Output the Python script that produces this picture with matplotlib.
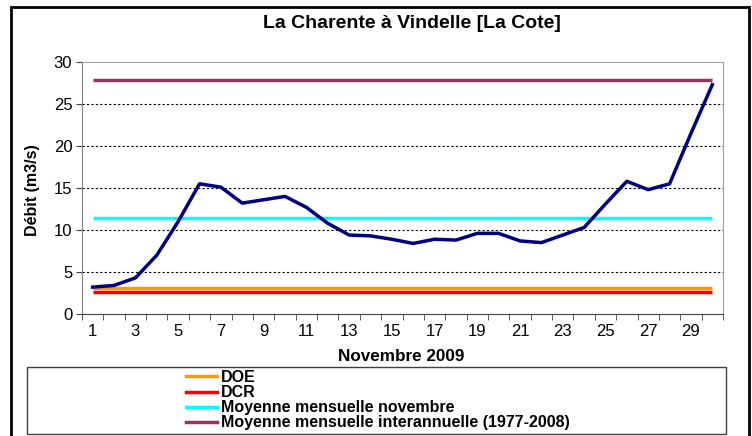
import matplotlib
matplotlib.use("Agg")
import matplotlib.pyplot as plt
from matplotlib.patches import Rectangle
from matplotlib.lines import Line2D

plt.rcParams['font.family'] = ['Liberation Sans', 'DejaVu Sans']

days = list(range(1, 31))
debit = [3.2, 3.4, 4.3, 7.0, 11.0, 15.5, 15.1, 13.2, 13.6, 14.0,
         12.7, 10.8, 9.4, 9.3, 8.9, 8.4, 8.9, 8.8, 9.6, 9.6,
         8.7, 8.5, 9.4, 10.3, 13.1, 15.8, 14.8, 15.5, 21.5, 27.3]
doe = 3.1
dcr = 2.6
moy_nov = 11.4
moy_inter = 27.8
tick_labels = [str(d) for d in range(1, 30, 2)]
legend_labels = ["DOE", "DCR", "Moyenne mensuelle novembre",
                 "Moyenne mensuelle interannuelle (1977-2008)"]
colors = ["#FF9900", "#FF0000", "#00FFFF", "#993366"]

W, H = 752, 436
fig = plt.figure(figsize=(W / 100, H / 100), dpi=100)

def fx(px):
    return px / W

def fy(py):
    return 1 - py / H

# outer border
fig.patches.append(Rectangle((fx(11), fy(470)), fx(749) - fx(11), fy(7) - fy(470),
                             transform=fig.transFigure, fill=False,
                             edgecolor='black', linewidth=2, zorder=0))

ax = fig.add_axes([fx(82), fy(314), fx(723) - fx(82), fy(62) - fy(314)])

levels = [doe, dcr, moy_nov, moy_inter]
for lev, c in zip(levels, colors):
    ax.plot(days, [lev] * len(days), color=c, linewidth=2.5, solid_capstyle='butt', zorder=3)
ax.plot(days, debit, color='#000080', linewidth=2.5, zorder=4)

ax.set_xlim(0.5, 30.5)
ax.set_ylim(0, 30)
ax.set_yticks(range(0, 31, 5))
ax.set_xticks(range(1, 30, 2))
ax.set_xticklabels(tick_labels)
ax.set_xticks([d + 0.5 for d in range(0, 31)], minor=True)
ax.tick_params(axis='x', which='major', length=0, labelsize=12, pad=7)
ax.tick_params(axis='x', which='minor', length=4, direction='out', color='#404040')
ax.tick_params(axis='y', which='major', length=4, direction='out', labelsize=12,
               color='#404040', pad=3)
for yv in range(5, 30, 5):
    ax.axhline(yv, color='black', linestyle=(0, (2, 2)), linewidth=0.8, zorder=1)
for s in ['top', 'right']:
    ax.spines[s].set_color('#A0A0A0')
ax.spines['left'].set_color('#808080')
ax.spines['bottom'].set_color('#404040')

fig.text(fx(412), fy(23), "La Charente à Vindelle [La Cote]", ha='center', va='center',
         fontsize=14, fontweight='bold')
fig.text(fx(32), fy(190), "Débit (m3/s)", ha='center', va='center', rotation=90,
         fontsize=11.5, fontweight='bold')
fig.text(fx(401), fy(356), "Novembre 2009", ha='center', va='center',
         fontsize=12.3, fontweight='bold')

# legend box
fig.patches.append(Rectangle((fx(27), fy(434)), fx(726) - fx(27), fy(367) - fy(434),
                             transform=fig.transFigure, fill=False,
                             edgecolor='#404040', linewidth=1, zorder=0))
handles = [Line2D([0], [0], color=c, linewidth=2.5) for c in colors]
leg = fig.legend(handles, legend_labels, loc='upper left',
                 bbox_to_anchor=(fx(186), fy(370)), frameon=False,
                 prop={'size': 11.5, 'weight': 'bold'}, handlelength=1.95,
                 handletextpad=0.22, labelspacing=0.01, borderpad=0, borderaxespad=0)

fig.savefig("out.png", dpi=100)
